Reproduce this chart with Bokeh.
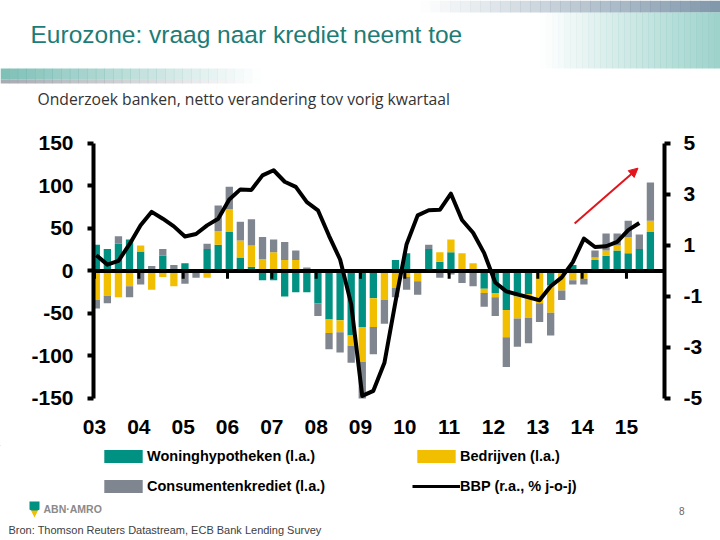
import numpy as np
from bokeh.plotting import figure
from bokeh.layouts import column
from bokeh.models import (LinearAxis, Range1d, FixedTicker, Span, Label, Legend,
                          LegendItem, Arrow, NormalHead)
from bokeh.embed import file_html
from bokeh.resources import INLINE

# ---------------- data ----------------
years = list(range(2003, 2016))
year_labels = ["03", "04", "05", "06", "07", "08", "09", "10", "11", "12", "13", "14", "15"]
quarter_years = [y for y in range(2003, 2016) for q in range(4)][:51]
quarter_nums = [q for y in range(2003, 2016) for q in range(1, 5)][:51]

woning = [31, 26, 32, 37, 23, 0, 18, 0, 9, 0, 26, 31, 46, 16, 5, -11, -11, -30, -25, -25,
          -38, -57, -58, -76, -66, -32, 0, 13, 21, 0, 26, 11, 22, 0, 0, -21, -26, -46, -30, -27,
          0, -17, 0, 7, 0, 13, 18, 24, 21, 26, 46]
bedrijven = [-34, -29, -31, -18, 7, -22, -7, -18, 0, 0, -8, 16, 27, 20, 25, 14, 22, 13, 13, 0,
             0, -16, -14, -12, -41, -34, -34, -20, -7, -12, 0, 11, 15, 21, 9, -5, -5, -32, -26, -28,
             -38, -32, -23, -11, -9, 3, 6, 6, 19, 0, 13]
consument = [-10, -9, 9, -13, -16, 6, 8, 7, -15, -8, 6, 30, 26, 22, 31, 26, 15, 21, 11, 4,
             -15, -19, -24, -20, -43, -32, -28, -11, -15, -16, 5, -8, -4, -14, -18, -16, -22, -35, -33, -30,
             -22, -27, -11, -5, -7, 8, 20, 14, 19, 17, 45]
bbp = [0.62, 0.25, 0.40, 1.05, 1.79, 2.32, 2.05, 1.75, 1.35, 1.45, 1.79, 2.05,
       2.80, 3.20, 3.18, 3.75, 3.95, 3.50, 3.30, 2.70, 2.38, 1.38, 0.45, -1.30,
       -4.90, -4.70, -3.60, -1.20, 1.05, 2.18, 2.38, 2.40, 3.03, 2.00, 1.50, 0.70,
       -0.45, -0.80, -0.92, -1.03, -1.15, -0.60, -0.25, 0.35, 1.27, 0.94, 0.97, 1.14,
       1.60, 1.88]
left_ticks = [-150, -100, -50, 0, 50, 100, 150]
right_ticks = [-5, -3, -1, 1, 3, 5]
arrow_x = [2013.83, 2015.26]
arrow_y = [56, 121]

series_names = ["Woninghypotheken (l.a.)", "Bedrijven (l.a.)", "Consumentenkrediet (l.a.)"]
line_name = "BBP (r.a., % j-o-j)"
colors = ["#009182", "#f2bf00", "#80868f"]
red = "#e3141b"

W = 720
TOP_H, CH_H, BOT_H = 130, 315, 95


def blank_fig(h, y0):
    f = figure(width=W, height=h, output_backend="svg", toolbar_location=None, title=None,
               x_range=Range1d(0, W), y_range=Range1d(y0 + h, y0), min_border=0,
               x_axis_location=None, y_axis_location=None, frame_align=False)
    f.grid.visible = False
    f.outline_line_color = None
    f.background_fill_color = "white"
    f.border_fill_color = "white"
    return f


def add_text(f, txt, x, y, size, color, font="Liberation Sans", style="normal", align="left"):
    f.add_layout(Label(x=x, y=y, text=txt, text_font=font, text_font_size=size,
                       text_color=color, text_font_style=style, text_align=align,
                       text_baseline="middle"))


def grad_band(f, x0, x1, y0, y1, color, a0, a1, steps=30):
    xs = np.linspace(x0, x1, steps + 1)
    alphas = a0 + (a1 - a0) * (np.arange(steps) + 0.5) / steps
    f.quad(left=xs[:-1], right=xs[1:] + 0.5, top=[y0] * steps, bottom=[y1] * steps,
           fill_color=color, fill_alpha=alphas, line_color=None)


# ---------------- top: title area ----------------
top = blank_fig(TOP_H, 0)
grad_band(top, 420, 720, 0, 12, "#7f97aa", 0.0, 1.0)
grad_band(top, 540, 720, 12, 68, "#92cdc5", 0.0, 0.9)
grad_band(top, 0, 260, 68, 79, "#6fb8ae", 0.9, 0.0)
grad_band(top, 0, 260, 79, 83, "#9aa2a8", 0.9, 0.0)
add_text(top, "Eurozone: vraag naar krediet neemt toe", 30, 34, "24.5px", "#1d7c76")
add_text(top, "Onderzoek banken, netto verandering tov vorig kwartaal", 37, 98, "15.7px",
         "#333333", font="Open Sans")

# ---------------- chart ----------------
p = figure(frame_width=571, frame_height=268, output_backend="svg", toolbar_location=None,
           title=None, x_range=Range1d(2002.977, 2015.858), y_range=Range1d(-155.9, 159.4),
           min_border_left=93, min_border_right=56, min_border_top=5, min_border_bottom=42,
           frame_align=False)
p.outline_line_color = None
p.grid.visible = False
p.background_fill_color = "white"
p.border_fill_color = "white"
p.extra_y_ranges = {"right": Range1d(-155.9 / 30, 159.4 / 30)}

p.xaxis.ticker = FixedTicker(ticks=years)
p.xaxis.major_label_overrides = {y: l for y, l in zip(years, year_labels)}
p.xaxis.axis_line_color = None
p.xaxis.major_tick_line_color = None
p.xaxis.minor_tick_line_color = None
p.xaxis.major_label_standoff = 10
p.xaxis.major_label_text_font = "Liberation Sans"
p.xaxis.major_label_text_font_style = "bold"
p.xaxis.major_label_text_font_size = "21px"
p.xaxis.major_label_text_color = "black"

p.yaxis.ticker = FixedTicker(ticks=left_ticks)
p.yaxis.bounds = (-150, 150)
p.yaxis.major_label_overrides = {t: str(t) for t in left_ticks}
ax_r = LinearAxis(y_range_name="right", ticker=FixedTicker(ticks=right_ticks), bounds=(-5, 5),
                  major_label_overrides={t: str(t) for t in right_ticks})
p.add_layout(ax_r, "right")
for ax, so in ((p.yaxis[0], 14), (ax_r, 13)):
    ax.axis_line_width = 4
    ax.axis_line_color = "black"
    ax.major_tick_line_width = 4
    ax.major_tick_line_color = "black"
    ax.major_tick_out = 6
    ax.major_tick_in = 0
    ax.minor_tick_line_color = None
    ax.major_label_standoff = so
    ax.major_label_text_font = "Liberation Sans"
    ax.major_label_text_font_style = "bold"
    ax.major_label_text_font_size = "21px"
    ax.major_label_text_color = "black"

xq = np.array(quarter_years) + (np.array(quarter_nums) - 1) / 4 + 0.04
pos_base = np.zeros(len(xq))
neg_base = np.zeros(len(xq))
for vals, col in zip([woning, bedrijven, consument], colors):
    v = np.array(vals, dtype=float)
    bottom = np.where(v >= 0, pos_base, neg_base)
    topv = bottom + v
    pos_base = np.where(v >= 0, topv, pos_base)
    neg_base = np.where(v < 0, topv, neg_base)
    p.vbar(x=xq, width=0.165, bottom=bottom, top=topv, fill_color=col, line_color=None)

p.add_layout(Span(location=0, dimension="width", line_color="black", line_width=4))
p.segment(x0=years, y0=[0] * len(years), x1=years, y1=[-9] * len(years),
          line_color="black", line_width=3)
p.line(xq[:len(bbp)], bbp, y_range_name="right", line_color="black", line_width=4,
       line_join="round")
p.add_layout(Arrow(end=NormalHead(size=9, fill_color=red, line_color=red),
                   x_start=arrow_x[0], y_start=arrow_y[0], x_end=arrow_x[1], y_end=arrow_y[1],
                   line_color=red, line_width=2))

# ---------------- bottom: legend and footer ----------------
bot = blank_fig(BOT_H, TOP_H + CH_H)
off = [-1000]
r_w = bot.vbar(x=off, top=off, bottom=off, width=1, fill_color=colors[0], line_color=None)
r_b = bot.vbar(x=off, top=off, bottom=off, width=1, fill_color=colors[1], line_color=None)
r_c = bot.vbar(x=off, top=off, bottom=off, width=1, fill_color=colors[2], line_color=None)
r_l = bot.line(x=off, y=off, line_color="black", line_width=3)


def make_legend(f, items, x, y):
    lg = Legend(items=items, location=(x, y), orientation="vertical",
                glyph_width=48, glyph_height=16, label_height=16, spacing=14,
                padding=0, margin=0, label_standoff=0,
                label_text_font="Liberation Sans",
                label_text_font_style="bold", label_text_font_size="14.5px",
                label_text_color="black", border_line_color=None,
                background_fill_alpha=0)
    f.add_layout(lg, "center")


make_legend(bot, [LegendItem(label=series_names[0], renderers=[r_w]),
                  LegendItem(label=series_names[2], renderers=[r_c])], 99, 46)
make_legend(bot, [LegendItem(label=series_names[1], renderers=[r_b]),
                  LegendItem(label=line_name, renderers=[r_l])], 412, 46)

bot.patch(x=[29, 39, 39, 34, 29], y=[501, 501, 509, 512, 509], fill_color="#009182",
          line_color=None)
bot.patch(x=[30.5, 37.5, 34], y=[510, 510, 517], fill_color="#f2bf00", line_color=None)
add_text(bot, "ABN·AMRO", 43, 508, "10.5px", "#8a8a8a", style="bold")
add_text(bot, "8", 684, 510, "10px", "#666666", align="right")
add_text(bot, "Bron: Thomson Reuters Datastream, ECB Bank Lending Survey", 8, 529, "11px",
         "#404040")

layout = column(top, p, bot, spacing=0)
open("out.html", "w").write(file_html(layout, INLINE))
